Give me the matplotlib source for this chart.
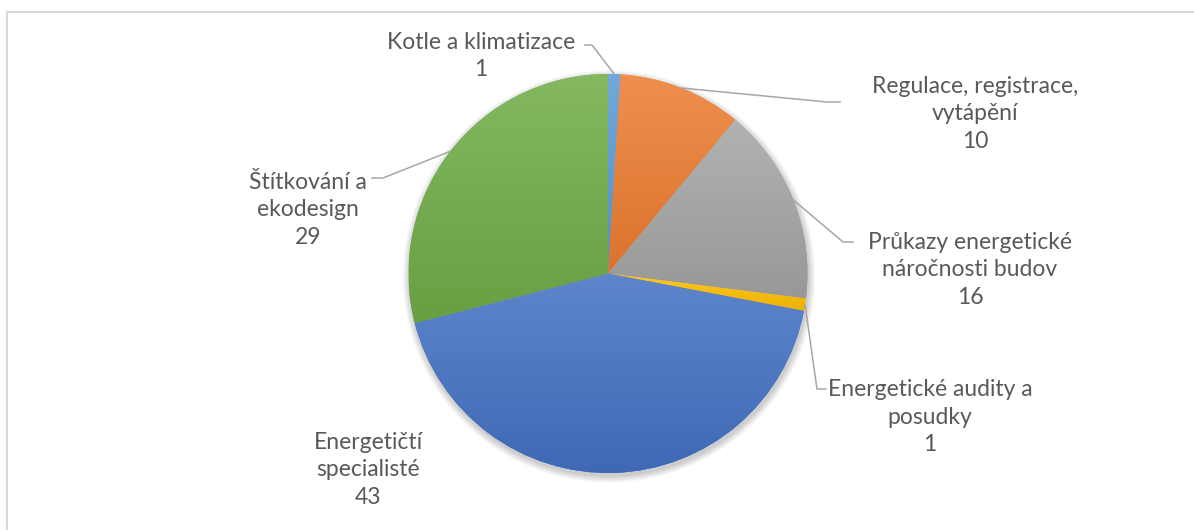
import numpy as np
import matplotlib
matplotlib.use('Agg')
import matplotlib.pyplot as plt
import matplotlib.colors as mcolors
from matplotlib.patches import Circle

plt.rcParams['font.family'] = ['Lato', 'DejaVu Sans']

# data
categories = ['Kotle a klimatizace', 'Regulace, registrace,\nvytápění',
              'Průkazy energetické\nnáročnosti budov', 'Energetické audity a\nposudky',
              'Energetičtí\nspecialisté', 'Štítkování a\nekodesign']
values = [1, 10, 16, 1, 43, 29]
colors = ['#5B9BD5', '#ED7D31', '#A5A5A5', '#FFC000', '#4472C4', '#70AD47']

W, H = 1194, 530
fig = plt.figure(figsize=(W / 100, H / 100), dpi=100)
ax = fig.add_axes([0, 0, 1, 1])

def Y(y):
    # pixel row -> data y
    return H - y

cx, cy, r = 608, Y(273.5), 199.5

# soft shadow
for i in range(10):
    ax.add_patch(Circle((cx + 1, cy - 3), r + 0.5 + i * 0.7, color='black',
                        alpha=0.018, lw=0, zorder=1))

wedges, _ = ax.pie(values, colors=colors, startangle=90, counterclock=False,
                   center=(cx, cy), radius=r, wedgeprops=dict(linewidth=0, zorder=2))

# vertical gradient on each slice
for w, c in zip(wedges, colors):
    base = np.array(mcolors.to_rgb(c))
    top = base + (1 - base) * 0.14
    bot = base * 0.92
    t = np.linspace(0, 1, 200)[:, None, None]
    img = top * (1 - t) + bot * t
    bb = w.get_path().get_extents()
    im = ax.imshow(img, extent=(bb.x0, bb.x1, bb.y0, bb.y1), origin='upper',
                   aspect='auto', interpolation='bilinear', zorder=3)
    im.set_clip_path(w)

# labels: (center x, center y of text block) in pixels
label_pos = [(481, 56), (975, 114), (970, 270), (930, 417), (368, 470), (308, 210)]
# leader lines: elbow and end in pixels (None = no line)
leaders = [((592, 45), (585, 45)), ((827, 102), (840, 102)), ((843, 242), (853, 242)),
           ((817, 389), (826, 389)), None, ((383, 178), (372, 178))]

total = sum(values)
ang = 90.0
for cat, v, (lx, ly), ld in zip(categories, values, label_pos, leaders):
    span = 360.0 * v / total
    mid = np.deg2rad(ang - span / 2)
    ang -= span
    ax.text(lx, Y(ly), f'{cat}\n{v}', ha='center', va='center', fontsize=16.5,
            color='#595959', linespacing=1.36, zorder=5)
    if ld is not None:
        sx, sy = cx + r * np.cos(mid), cy + r * np.sin(mid)
        (ex, ey), (tx, ty) = ld
        ax.plot([sx, ex, tx], [sy, Y(ey), Y(ty)], color='#A6A6A6', lw=1.1, zorder=4)

# chart area border (top and left visible)
ax.plot([7, W], [Y(12), Y(12)], color='#D9D9D9', lw=1.5, zorder=6)
ax.plot([7, 7], [Y(12), 0], color='#D9D9D9', lw=1.5, zorder=6)

ax.set_xlim(0, W)
ax.set_ylim(0, H)
ax.set_aspect('auto')
ax.axis('off')
fig.savefig('out.png', dpi=100, facecolor='white')
